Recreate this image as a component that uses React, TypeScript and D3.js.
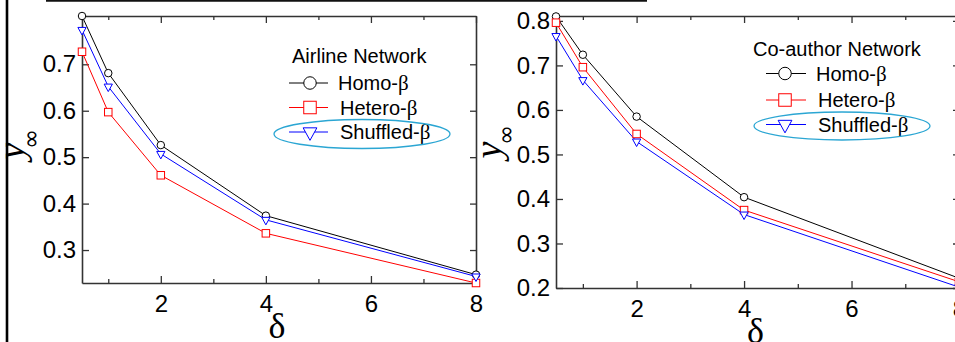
import * as d3 from "d3";
import React, { useRef, useEffect } from "react";

const W = 955;
const H = 342;

// delta values on the x axis
const deltas = [0.5, 1, 2, 4, 8];

// airline network
const airlineHomo = [0.804, 0.681, 0.526, 0.374, 0.247];
const airlineHetero = [0.727, 0.597, 0.461, 0.336, 0.229];
const airlineShuffled = [0.774, 0.652, 0.507, 0.365, 0.243];

// co-author network
const coauthorHomo = [0.81, 0.724, 0.585, 0.404, 0.222];
const coauthorHetero = [0.796, 0.696, 0.546, 0.375, 0.214];
const coauthorShuffled = [0.766, 0.667, 0.529, 0.365, 0.202];

const seriesNames = ["Homo-", "Hetero-", "Shuffled-"];
const seriesColors = ["#000000", "#ff0000", "#0000ff"];
const seriesSymbols = ["circle", "square", "triangle"];

const xMajor = [2, 4, 6, 8];
const xMinor = [1, 3, 5, 7];
const airlineYTicks = [0.3, 0.4, 0.5, 0.6, 0.7];
const coauthorYTicks = [0.2, 0.3, 0.4, 0.5, 0.6, 0.7, 0.8];

const axisColor = "#333";
const sans = "'Liberation Sans', Arial, Helvetica, sans-serif";
const serif = "'Liberation Serif', 'Times New Roman', serif";

const panels = [
  {
    title: "Airline Network",
    series: [airlineHomo, airlineHetero, airlineShuffled],
    yTicks: airlineYTicks,
    yDomain: [0.229, 0.804],
    box: { left: 82, right: 476, top: 16, bottom: 283 },
    ylab: { x: 24, y: 151, ix: 39, iy: 139 },
    legend: { titleX: 292, titleY: 63, x0: 289, x1: 328, mx: 310, textX: 338, rows: [83, 107.5, 132], ell: [362, 134, 88, 14.5] },
  },
  {
    title: "Co-author Network",
    series: [coauthorHomo, coauthorHetero, coauthorShuffled],
    yTicks: coauthorYTicks,
    yDomain: [0.2, 0.811],
    box: { left: 556, right: 959, top: 16, bottom: 288 },
    ylab: { x: 501, y: 150, ix: 514, iy: 135 },
    legend: { titleX: 753, titleY: 56, x0: 766, x1: 806, mx: 785, textX: 816, rows: [73.5, 100, 124.5], ell: [842, 126, 88, 14] },
  },
];

function drawMarker(g, kind, cx, cy, s, color) {
  if (kind === "circle") {
    g.append("circle").attr("cx", cx).attr("cy", cy).attr("r", s / 2)
      .attr("fill", "white").attr("stroke", color).attr("stroke-width", 1);
  } else if (kind === "square") {
    g.append("rect").attr("x", cx - s / 2).attr("y", cy - s / 2)
      .attr("width", s).attr("height", s)
      .attr("fill", "white").attr("stroke", color).attr("stroke-width", 1);
  } else {
    const w = s * 1.1;
    const h = s;
    g.append("path")
      .attr("d", `M${cx - w / 2},${cy - h / 3}L${cx + w / 2},${cy - h / 3}L${cx},${cy + (2 * h) / 3}Z`)
      .attr("fill", "white").attr("stroke", color).attr("stroke-width", 1);
  }
}

function styleAxis(g) {
  g.selectAll(".domain").attr("stroke", axisColor).attr("stroke-width", 1.6);
  g.selectAll(".tick line").attr("stroke", axisColor).attr("stroke-width", 1.3);
  g.selectAll("text").attr("fill", "#000").attr("font-family", sans).attr("font-size", 24);
}

function App() {
  const ref = useRef(null);

  useEffect(() => {
    const svg = d3.select(ref.current);
    svg.selectAll("*").remove();
    svg.append("rect").attr("width", W).attr("height", H).attr("fill", "white");

    panels.forEach((p) => {
      const { box } = p;
      const x = d3.scaleLinear().domain([0.5, 8]).range([box.left, box.right]);
      const y = d3.scaleLinear().domain(p.yDomain).range([box.bottom, box.top]);
      const g = svg.append("g");

      // bottom axis
      const bx = g.append("g").attr("transform", `translate(0,${box.bottom})`)
        .call(d3.axisBottom(x).tickValues(xMajor).tickSize(-7).tickSizeOuter(0).tickPadding(12).tickFormat(d3.format("d")));
      styleAxis(bx);
      const bm = g.append("g").attr("transform", `translate(0,${box.bottom})`)
        .call(d3.axisBottom(x).tickValues(xMinor).tickSize(-4).tickSizeOuter(0).tickFormat(() => ""));
      bm.select(".domain").remove();
      styleAxis(bm);

      // top axis
      const tx = g.append("g").attr("transform", `translate(0,${box.top})`)
        .call(d3.axisTop(x).tickValues(xMajor).tickSize(-7).tickSizeOuter(0).tickFormat(() => ""));
      styleAxis(tx);
      const tm = g.append("g").attr("transform", `translate(0,${box.top})`)
        .call(d3.axisTop(x).tickValues(xMinor).tickSize(-4).tickSizeOuter(0).tickFormat(() => ""));
      tm.select(".domain").remove();
      styleAxis(tm);

      // left and right axes
      const ly = g.append("g").attr("transform", `translate(${box.left},0)`)
        .call(d3.axisLeft(y).tickValues(p.yTicks).tickSize(-7).tickSizeOuter(0).tickPadding(6).tickFormat(d3.format(".1f")));
      styleAxis(ly);
      const ry = g.append("g").attr("transform", `translate(${box.right},0)`)
        .call(d3.axisRight(y).tickValues(p.yTicks).tickSize(-6).tickSizeOuter(0).tickFormat(() => ""));
      styleAxis(ry);

      // series
      const line = d3.line().x((d) => x(d[0])).y((d) => y(d[1]));
      p.series.forEach((vals, i) => {
        const pts = deltas.map((d, j) => [d, vals[j]]);
        g.append("path").attr("d", line(pts)).attr("fill", "none")
          .attr("stroke", seriesColors[i]).attr("stroke-width", 1);
      });
      p.series.forEach((vals, i) => {
        deltas.forEach((d, j) => {
          drawMarker(g, seriesSymbols[i], x(d), y(vals[j]), 7.5, seriesColors[i]);
        });
      });

      // axis titles
      g.append("text")
        .attr("transform", `translate(${(box.left + box.right) / 2 - 2},${box.bottom + 55})`)
        .attr("text-anchor", "middle").attr("font-family", serif).attr("font-size", 36)
        .text("δ");
      g.append("text")
        .attr("transform", `translate(${p.ylab.x},${p.ylab.y}) rotate(-90)`)
        .attr("text-anchor", "middle").attr("font-family", serif).attr("font-style", "italic")
        .attr("font-size", 38).text("y");
      g.append("text")
        .attr("transform", `translate(${p.ylab.ix},${p.ylab.iy}) rotate(-90)`)
        .attr("text-anchor", "middle").attr("font-family", "'DejaVu Sans', sans-serif")
        .attr("font-size", 24).text("∞");

      // legend
      const L = p.legend;
      g.append("text").attr("x", L.titleX).attr("y", L.titleY)
        .attr("font-family", sans).attr("font-size", 20).text(p.title);
      seriesNames.forEach((name, i) => {
        const yy = L.rows[i];
        g.append("line").attr("x1", L.x0).attr("x2", L.x1).attr("y1", yy).attr("y2", yy)
          .attr("stroke", seriesColors[i]).attr("stroke-width", 1);
        drawMarker(g, seriesSymbols[i], L.mx, yy, 12.5, seriesColors[i]);
        const t = g.append("text").attr("x", L.textX + (i > 0 ? 2 : 0)).attr("y", yy + 7)
          .attr("font-family", sans).attr("font-size", 20);
        t.append("tspan").text(name);
        t.append("tspan").attr("font-family", serif).attr("font-size", 21).text("β");
      });
      const [ecx, ecy, erx, ery] = L.ell;
      g.append("ellipse").attr("cx", ecx).attr("cy", ecy).attr("rx", erx).attr("ry", ery)
        .attr("fill", "none").attr("stroke", "#2ba6d3").attr("stroke-width", 1.3);
    });

    // frame remnants
    svg.append("line").attr("x1", 46).attr("x2", 647).attr("y1", 0.8).attr("y2", 0.8)
      .attr("stroke", "#111").attr("stroke-width", 2);
    svg.append("line").attr("x1", 7).attr("x2", 7).attr("y1", 0).attr("y2", H)
      .attr("stroke", "#000").attr("stroke-width", 2.6);
  }, []);

  return (
    <svg ref={ref} width={W} height={H}
      style={{ position: "absolute", left: 0, top: 0, display: "block" }}></svg>
  );
}

export default App;
